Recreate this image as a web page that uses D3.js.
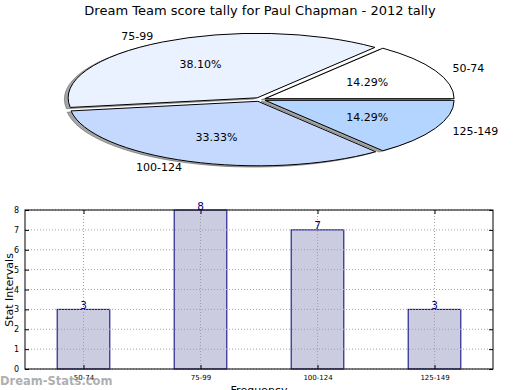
<!DOCTYPE html>
<html><head><meta charset="utf-8">
<script src="https://cdn.jsdelivr.net/npm/d3@7"></script>
<style>body{margin:0;background:#fff}svg{display:block;font-family:"DejaVu Sans",sans-serif}</style>
</head><body><svg id="c" width="520" height="390"></svg>
<script>
const categories = ["50-74","75-99","100-124","125-149"];
const counts = [3,8,7,3];
const sliceColors = ["#ffffff","#eaf1ff","#c5d9fe","#b4d5ff"];
const yTicks = [0,1,2,3,4,5,6,7,8];
const title = "Dream Team score tally for Paul Chapman - 2012 tally";

const svg = d3.select("#c");
svg.append("text").attr("x",260).attr("y",15).attr("text-anchor","middle")
  .attr("font-size",13).text(title);

// ---- Pie (elliptical, matplotlib style: starts at 3 o'clock, counterclockwise)
const cx = 260, cy = 99.5, rx = 189, ry = 64.5, explode = 0.03;
const total = d3.sum(counts);
const pie = d3.pie().sort(null).startAngle(Math.PI/2).endAngle(Math.PI/2 - 2*Math.PI);
const arcs = pie(counts);
const arc = d3.arc().innerRadius(0).outerRadius(1);
const g = svg.append("g").attr("transform",`translate(${cx},${cy}) scale(${rx},${ry})`);
// shadows
arcs.forEach((a,i)=>{
  const m = (a.startAngle+a.endAngle)/2;
  const ox = explode*Math.sin(m) - 0.02, oy = -explode*Math.cos(m) + 0.02;
  g.append("path").attr("d",arc(a)).attr("transform",`translate(${ox},${oy})`)
   .attr("fill","#4d4d4d").attr("fill-opacity",0.5).attr("stroke","#4d4d4d")
   .attr("stroke-opacity",0.5).attr("stroke-width",1).attr("vector-effect","non-scaling-stroke");
});
arcs.forEach((a,i)=>{
  const m = (a.startAngle+a.endAngle)/2;
  const ox = explode*Math.sin(m), oy = -explode*Math.cos(m);
  g.append("path").attr("d",arc(a)).attr("transform",`translate(${ox},${oy})`)
   .attr("fill",sliceColors[i]).attr("stroke","#000").attr("stroke-width",1)
   .attr("vector-effect","non-scaling-stroke");
});
arcs.forEach((a,i)=>{
  const m = (a.startAngle+a.endAngle)/2;
  const ux = Math.sin(m), uy = -Math.cos(m);
  const bx = cx + explode*rx*ux, by = cy + explode*ry*uy;
  const lx = bx + 1.1*rx*ux, ly = by + 1.1*ry*uy;
  svg.append("text").attr("x", lx).attr("y",ly).attr("dy","0.35em")
    .attr("text-anchor", ux>0 ? "start":"end").attr("font-size",11).text(categories[i]);
  const px = bx + 0.6*rx*ux, py = by + 0.6*ry*uy;
  svg.append("text").attr("x",px).attr("y",py).attr("dy","0.35em")
    .attr("text-anchor","middle").attr("font-size",11)
    .text((counts[i]/total*100).toFixed(2)+"%");
});

// ---- Bar chart
const L=25, R=493, T=210, B=369;
const x = d3.scaleLinear().domain([-0.5,3.5]).range([L,R]);
const y = d3.scaleLinear().domain([0,8]).range([B,T]);
const gb = svg.append("g");
const bw = 0.45;
counts.forEach((v,i)=>{
  gb.append("rect").attr("x",x(i-bw/2)).attr("y",y(v)).attr("width",x(bw)-x(0)).attr("height",y(0)-y(v))
    .attr("fill","#cccce0").attr("stroke","#00007f").attr("stroke-width",1);
});
// grid over bars
yTicks.forEach(t=>{
  gb.append("line").attr("x1",L).attr("x2",R).attr("y1",y(t)).attr("y2",y(t))
    .attr("stroke","#a0a0a8").attr("stroke-width",1).attr("stroke-dasharray","1,2");
});
categories.forEach((c,i)=>{
  gb.append("line").attr("x1",x(i)).attr("x2",x(i)).attr("y1",T).attr("y2",B)
    .attr("stroke","#a0a0a8").attr("stroke-width",1).attr("stroke-dasharray","1,2");
});
counts.forEach((v,i)=>{
  gb.append("text").attr("x",x(i)).attr("y",y(v)).attr("dy","-0.5")
    .attr("text-anchor","middle").attr("font-size",10.5).attr("fill","#00007f").text(v);
});
// frame
gb.append("rect").attr("x",L).attr("y",T).attr("width",R-L).attr("height",B-T)
  .attr("fill","none").attr("stroke","#000").attr("stroke-width",1);
// axes ticks
const ya = d3.axisLeft(y).tickValues(yTicks).tickSize(-4).tickPadding(6).tickFormat(d3.format("d"));
const yAx = svg.append("g").attr("transform",`translate(${L},0)`).call(ya);
const yr = d3.axisRight(y).tickValues(yTicks).tickSize(-4).tickFormat("");
svg.append("g").attr("transform",`translate(${R},0)`).call(yr);
const xa = d3.axisBottom(x).tickValues(d3.range(categories.length)).tickSize(-4).tickPadding(6)
  .tickFormat(i=>categories[i]);
const xAx = svg.append("g").attr("transform",`translate(0,${B})`).call(xa);
const xt = d3.axisTop(x).tickValues(d3.range(categories.length)).tickSize(-4).tickFormat("");
svg.append("g").attr("transform",`translate(0,${T})`).call(xt);
svg.selectAll(".domain").remove();
svg.selectAll(".tick line").attr("stroke","#000");
svg.selectAll(".tick text").attr("font-size",7).attr("font-family","DejaVu Sans").attr("fill","#000");
yAx.selectAll(".tick text").attr("font-size",8);
svg.append("text").attr("transform","translate(13,290) rotate(-90)").attr("text-anchor","middle")
  .attr("font-size",11).text("Stat Intervals");
svg.append("text").attr("x",259).attr("y",394).attr("text-anchor","middle")
  .attr("font-size",11).text("Frequency");
// watermark
svg.append("text").attr("x",0).attr("y",385).attr("font-size",11.5).attr("font-weight","bold")
  .attr("fill","#999").attr("fill-opacity",0.8).text("Dream-Stats.com");
</script></body></html>
